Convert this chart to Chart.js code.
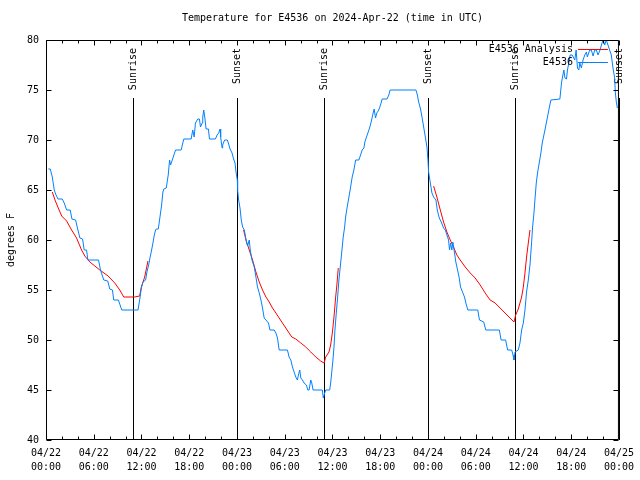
<!DOCTYPE html>
<html>
<head>
<meta charset="utf-8">
<script src="https://cdn.jsdelivr.net/npm/chart.js@4"></script>
<style>
html,body{margin:0;padding:0;background:#fff;}
canvas{display:block;}
</style>
</head>
<body>
<canvas id="c" width="640" height="480"></canvas>
<script>
// ---- data (hours since 2024-04-22 00:00 UTC) ----
const obsHours = [0.29,0.54,0.79,1.04,1.21,1.50,2.04,2.29,2.59,3.04,3.26,3.72,3.92,4.26,4.60,4.80,5.10,5.26,6.60,6.85,7.26,7.76,8.01,8.35,8.51,9.10,9.52,11.56,11.77,11.98,12.18,12.52,12.68,12.90,13.06,13.27,13.44,13.61,13.77,13.86,14.11,14.27,14.53,14.69,14.81,15.11,15.36,15.53,15.65,15.87,16.03,16.28,16.99,17.19,17.32,18.24,18.44,18.62,18.78,19.07,19.28,19.41,19.62,19.70,19.82,19.95,20.12,20.41,20.54,21.29,21.50,21.70,21.88,21.95,22.13,22.20,22.29,22.45,22.79,22.95,23.13,23.38,23.54,23.75,23.88,24.04,24.08,24.21,24.38,24.54,24.71,24.92,25.04,25.21,25.33,25.54,25.67,25.88,26.17,26.38,26.58,26.80,27.01,27.21,27.42,27.64,27.96,28.14,28.68,28.89,29.09,29.30,30.34,30.55,30.77,30.97,31.18,31.39,31.59,31.72,31.89,32.02,32.22,32.43,32.72,32.90,33.06,33.27,33.40,33.56,34.72,34.85,35.02,35.15,35.65,35.77,35.90,36.06,36.19,36.31,36.48,36.65,36.81,37.03,37.23,37.35,37.53,37.65,37.85,38.07,38.28,38.48,38.69,38.91,39.32,39.53,39.73,39.95,40.07,40.23,40.45,40.66,40.86,41.11,41.24,41.41,41.57,41.74,41.91,42.11,42.24,42.86,43.08,43.24,46.49,46.67,46.83,47.04,47.25,47.46,47.67,47.87,48.00,48.08,48.30,48.50,48.71,49.00,49.17,49.42,49.67,49.96,50.18,50.38,50.59,50.71,50.84,51.00,51.13,51.34,51.50,51.72,51.93,52.09,52.34,52.59,52.76,53.01,54.26,54.47,55.01,55.26,56.97,57.19,57.76,58.01,58.52,58.69,58.81,58.94,59.35,59.56,59.77,59.98,60.19,60.39,60.61,60.82,61.02,61.15,61.32,61.44,61.61,61.77,61.98,62.19,62.36,62.70,63.02,63.24,63.45,64.58,64.78,64.91,65.08,65.21,65.41,65.53,65.70,65.87,66.12,66.45,66.62,66.79,66.96,67.08,67.28,67.49,67.71,67.91,68.03,68.33,68.53,68.75,68.96,69.16,69.37,69.62,69.91,70.04,70.21,70.41,70.62,70.83,71.04,71.25,71.46,71.54,71.67,71.80];
const obsTemps = [67.1,67.1,66.3,65.0,64.6,64.1,64.1,63.7,63.0,63.0,62.1,62.0,61.3,60.2,60.1,59.0,59.0,58.0,58.0,57.0,56.0,55.9,55.1,55.0,54.0,54.0,53.0,53.0,54.0,55.2,55.8,56.0,56.8,57.5,58.2,59.0,59.7,60.5,61.0,61.1,61.1,62.0,63.5,64.8,65.1,65.2,66.5,68.0,67.5,68.0,68.4,69.0,69.0,69.7,70.1,70.1,71.0,70.3,71.7,72.1,72.1,71.3,71.7,72.3,73.0,72.3,71.1,71.1,70.1,70.1,70.5,70.7,71.1,70.3,69.2,69.5,69.7,70.0,70.0,69.6,69.1,68.7,68.2,67.7,66.8,66.0,65.0,64.0,63.2,62.0,61.3,61.0,60.5,59.7,59.4,60.0,59.0,58.0,57.3,56.3,55.3,54.7,54.0,53.2,52.2,52.0,51.7,51.0,51.0,50.7,50.2,49.0,49.0,48.3,48.0,47.3,46.8,46.3,46.0,46.5,47.0,46.2,46.0,45.7,45.5,45.0,45.0,46.0,45.7,45.0,45.0,44.2,44.7,45.0,45.0,45.7,46.7,48.0,49.3,51.0,52.7,54.3,56.0,57.7,59.3,60.3,61.3,62.3,63.3,64.3,65.3,66.3,67.0,68.0,68.0,68.5,69.0,69.2,69.8,70.2,70.7,71.2,71.8,72.7,73.1,72.2,72.7,72.9,73.2,73.7,74.1,74.1,74.5,75.0,75.0,74.5,73.8,73.2,72.3,71.3,70.3,69.3,68.0,66.8,65.7,64.7,64.3,64.0,63.0,62.2,61.8,61.2,61.0,60.5,60.0,59.0,59.7,59.0,59.8,58.7,57.8,57.0,56.2,55.3,54.8,54.3,53.7,53.0,53.0,52.0,51.8,51.0,51.0,50.0,50.0,49.0,49.0,48.5,48.0,48.8,49.0,49.7,51.0,51.7,53.0,54.8,56.0,57.5,59.7,61.3,62.7,64.0,65.7,66.7,67.7,68.7,69.7,71.0,72.3,73.2,74.0,74.1,75.7,76.3,77.0,76.2,76.1,77.0,77.7,78.5,78.5,78.0,79.0,77.2,77.0,77.7,77.2,78.0,78.5,78.8,78.3,79.0,79.0,78.4,79.0,79.0,78.5,79.0,79.8,80.0,79.5,80.0,79.5,79.0,78.5,77.2,76.2,74.8,73.8,73.2];

// analysis series; null separates the three night-time runs
const anaHours = [0.79,1.13,1.54,1.97,2.59,3.22,3.84,4.47,4.88,5.51,6.14,6.76,7.80,8.64,9.27,9.77,11.14,11.77,11.98,12.40,12.61,12.81,
  18.0,
  24.83,25.13,25.54,25.96,26.38,26.80,27.21,27.64,28.05,28.46,28.89,29.30,29.71,30.14,30.55,30.89,31.39,32.02,32.64,33.27,33.90,34.52,34.94,35.15,35.56,35.77,35.98,36.19,36.40,36.53,36.73,
  42.0,
  48.71,49.12,49.55,49.96,50.38,50.80,51.21,51.63,52.05,52.68,53.31,53.93,54.56,55.19,55.81,56.44,57.06,57.69,58.31,58.81,59.02,59.35,59.56,59.77,59.98,60.19,60.39,60.61,60.82];
const anaTemps = [64.8,64.0,63.2,62.4,61.9,61.0,60.2,59.0,58.4,57.8,57.4,57.0,56.4,55.7,55.0,54.3,54.3,54.4,55.3,56.3,57.1,57.9,
  null,
  61.0,60.0,59.0,58.0,56.8,55.8,55.0,54.3,53.8,53.2,52.7,52.2,51.7,51.2,50.7,50.3,50.1,49.7,49.3,48.8,48.3,47.9,47.7,48.3,48.8,49.5,50.7,52.3,54.3,55.3,57.2,
  null,
  65.4,64.3,63.0,61.8,60.8,60.0,59.3,58.5,58.0,57.3,56.7,56.2,55.5,54.7,54.0,53.7,53.2,52.7,52.2,51.8,52.5,53.1,53.7,54.3,55.3,56.7,58.3,59.7,61.0];

const eventHours  = [10.9, 23.95, 34.95, 48.0, 59.0, 71.95];
const eventLabels = ['Sunrise','Sunset','Sunrise','Sunset','Sunrise','Sunset'];

const tickDates = ['04/22','04/22','04/22','04/22','04/23','04/23','04/23','04/23','04/24','04/24','04/24','04/24','04/25'];
const tickTimes = ['00:00','06:00','12:00','18:00','00:00','06:00','12:00','18:00','00:00','06:00','12:00','18:00','00:00'];

const seriesNames = ['E4536 Analysis','E4536'];
const titleText = 'Temperature for E4536 on 2024-Apr-22 (time in UTC)';

// ---- styling ----
const FONT = 'DejaVu Sans Mono';
const BLUE = 'rgb(0,128,255)';
const RED = 'rgb(255,0,0)';

function pairs(xs, ys){ return xs.map((x,i)=>({x:x, y:ys[i]})); }

const decorations = {
  id: 'decorations',
  beforeDatasetsDraw(chart){
    const {ctx, chartArea:a, scales:{x}} = chart;
    ctx.save();
    ctx.strokeStyle = '#000';
    ctx.lineWidth = 1;
    ctx.fillStyle = '#000';
    ctx.font = '10px "' + FONT + '"';
    eventHours.forEach((h,i)=>{
      const px = Math.round(x.getPixelForValue(h)) + 0.5;
      ctx.beginPath();
      ctx.moveTo(px, a.bottom);
      ctx.lineTo(px, a.top + 58);
      ctx.stroke();
      ctx.save();
      ctx.translate(px, a.top + 8);
      ctx.rotate(-Math.PI/2);
      ctx.textAlign = 'right';
      ctx.textBaseline = 'middle';
      ctx.fillText(eventLabels[i], 0, 0);
      ctx.restore();
    });
    ctx.restore();
  },
  afterDatasetsDraw(chart){
    const {ctx, chartArea:a, scales:{x, y}} = chart;
    ctx.save();
    ctx.strokeStyle = '#000';
    ctx.lineWidth = 1;
    const L = a.left + 0.5, R = a.right - 0.5, T = a.top + 0.5, B = a.bottom - 0.5;
    ctx.beginPath();
    ctx.rect(L, T, R - L, B - T);
    // x ticks: major every 6 h, minor every 2 h
    for (let h = 0; h <= 72; h += 2) {
      const px = Math.round(x.getPixelForValue(h)) + 0.5;
      const len = (h % 6 === 0) ? 5 : 3;
      ctx.moveTo(px, B); ctx.lineTo(px, B - len);
      ctx.moveTo(px, T); ctx.lineTo(px, T + len);
    }
    // y ticks every 5
    for (let v = 40; v <= 80; v += 5) {
      const py = Math.round(y.getPixelForValue(v)) + 0.5;
      ctx.moveTo(L, py); ctx.lineTo(L + 5, py);
      ctx.moveTo(R, py); ctx.lineTo(R - 5, py);
    }
    ctx.stroke();

    // key (top right, inside plot, no box)
    ctx.font = '10px "' + FONT + '"';
    ctx.textAlign = 'right';
    ctx.textBaseline = 'middle';
    const ds = chart.data.datasets;
    ds.forEach((d, i)=>{
      const ry = a.top + 9.5 + i * 13;
      ctx.fillStyle = '#000';
      ctx.fillText(d.label, a.right - 46, ry);
      ctx.strokeStyle = d.borderColor;
      ctx.beginPath();
      ctx.moveTo(a.right - 41, ry);
      ctx.lineTo(a.right - 11, ry);
      ctx.stroke();
    });
    ctx.restore();
  }
};

new Chart(document.getElementById('c'), {
  type: 'line',
  data: {
    datasets: [
      { label: seriesNames[0], data: pairs(anaHours, anaTemps), borderColor: RED, backgroundColor: RED,
        borderWidth: 1, pointRadius: 0, tension: 0, spanGaps: false, order: 2 },
      { label: seriesNames[1], data: pairs(obsHours, obsTemps), borderColor: BLUE, backgroundColor: BLUE,
        borderWidth: 1, pointRadius: 0, tension: 0, order: 1 }
    ]
  },
  options: {
    responsive: false,
    animation: false,
    devicePixelRatio: 1,
    parsing: true,
    layout: { padding: { left: 0, right: 19, top: 0, bottom: 0 } },
    plugins: {
      legend: { display: false },
      tooltip: { enabled: false },
      title: {
        display: true, text: titleText, fullSize: false, color: '#000',
        font: { family: FONT, size: 10, weight: 'normal', lineHeight: 1 },
        padding: { top: 13, bottom: 17 }
      }
    },
    scales: {
      x: {
        type: 'linear', min: 0, max: 72,
        grid: { display: false, drawTicks: false },
        border: { display: false },
        ticks: {
          stepSize: 6, autoSkip: false, maxRotation: 0, minRotation: 0, padding: 6, color: '#000',
          font: { family: FONT, size: 10, lineHeight: 1.4 },
          callback: (v, i) => [tickDates[i], tickTimes[i]]
        },
        afterFit: (s) => { s.height = 40; }
      },
      y: {
        min: 40, max: 80,
        grid: { display: false, drawTicks: false },
        border: { display: false },
        ticks: { stepSize: 5, padding: 7, color: '#000', font: { family: FONT, size: 10 } },
        title: { display: true, text: 'degrees F', color: '#000', font: { family: FONT, size: 10 }, padding: { top: 5, bottom: 0 } },
        afterFit: (s) => { s.width = 46; }
      }
    }
  },
  plugins: [decorations]
});
</script>
</body>
</html>
